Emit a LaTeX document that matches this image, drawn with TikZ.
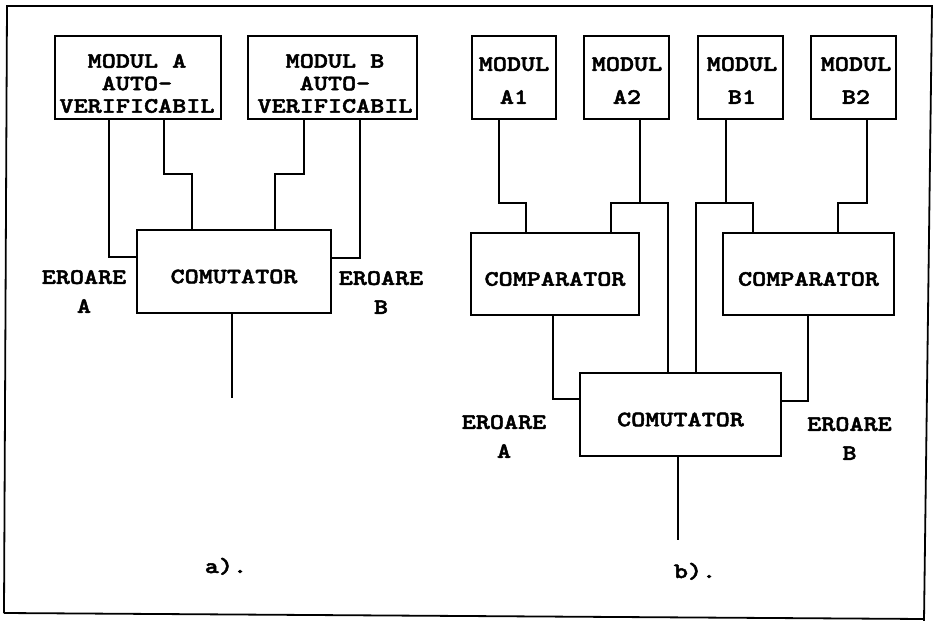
\documentclass[tikz,border=0pt]{standalone}
\usepackage{fontspec}
\newfontfamily\typew[FakeStretch=1.22,FakeBold=2.2]{lmmonolt10-bold.otf}
\tikzset{
  box/.style={draw, line width=1.3pt, inner sep=0pt},
  wire/.style={line width=1.6pt},
  frame/.style={line width=1.8pt},
  txt/.style={font=\typew\fontsize{22}{22.5}\selectfont, inner sep=0pt, align=center},
  onebox/.style={box, txt, minimum height=83pt, text height=23.5pt, text depth=0pt},
}
\begin{document}
\begin{tikzpicture}[x=1pt, y=-1pt]
\useasboundingbox (0,0) rectangle (935,621);
% frame
\draw[frame] (4,613) -- (7,6) -- (932,6) -- (924,621);
\draw[frame] (4,613) -- (924,619);

% ---------- a) ----------
\node[box, minimum width=166pt, minimum height=83pt] (mA) at (138,77.5) {};
\node[box, minimum width=169pt, minimum height=83pt] (mB) at (332.5,77.5) {};
\node[txt] (tA) at (137,83.5) {MODUL A\\AUTO-\\VERIFICABIL};
\node[txt] (tB) at (335,83.5) {MODUL B\\AUTO-\\VERIFICABIL};
\node[onebox, minimum width=194pt] (ca) at (234,271.5) {COMUTATOR};
\node[txt] (eaA) at (84,291.5) {EROARE\\[6.5pt]A};
\node[txt] (eaB) at (381,292.5) {EROARE\\[6.5pt]B};
\coordinate (oa) at (232,398);
\node[txt, anchor=base] (capa) at (226,573) {a).};

\draw[wire] (mA.south -| 109,0) |- (ca.west |- 0,257);
\draw[wire] (mA.south -| 164,0) |- (192,174) -- (ca.north -| 192,0);
\draw[wire] (mB.south -| 304,0) |- (275,174) -- (ca.north -| 275,0);
\draw[wire] (mB.south -| 360,0) |- (ca.east |- 0,258);
\draw[wire] (ca.south -| oa) -- (oa);

% ---------- b) ----------
\node[box, minimum width=84pt, minimum height=83pt] (a1) at (514,77.5) {};
\node[box, minimum width=85pt, minimum height=83pt] (a2) at (626.5,77.5) {};
\node[box, minimum width=85pt, minimum height=83pt] (b1) at (740.5,77.5) {};
\node[box, minimum width=85pt, minimum height=83pt] (b2) at (853.5,77.5) {};
\node[txt] (ta1) at (514,80.5) {MODUL\\[10.5pt]A1};
\node[txt] (ta2) at (627,80.5) {MODUL\\[10.5pt]A2};
\node[txt] (tb1) at (742,80.5) {MODUL\\[10.5pt]B1};
\node[txt] (tb2) at (856,80.5) {MODUL\\[10.5pt]B2};
\node[onebox, minimum width=168pt, minimum height=82pt] (cpl) at (555,274) {COMPARATOR};
\node[onebox, minimum width=171pt, minimum height=82pt] (cpr) at (808.5,274) {COMPARATOR};
\node[onebox, minimum width=201pt] (cb) at (680.5,414.5) {COMUTATOR};
\node[txt] (ebA) at (504,436.5) {EROARE\\[6.5pt]A};
\node[txt] (ebB) at (849.5,438.5) {EROARE\\[6.5pt]B};
\coordinate (ob) at (678,540);
\node[txt, anchor=base] (capb) at (695,578) {b).};

\draw[wire] (a1.south -| 499,0) |- (526,203) -- (cpl.north -| 526,0);
\draw[wire] (a2.south -| 640,0) -- (640,203);
\draw[wire] (cpl.north -| 611,0) |- (668,203) -- (cb.north -| 668,0);
\draw[wire] (b1.south -| 726,0) -- (726,203);
\draw[wire] (cb.north -| 696,0) |- (753,203) -- (cpr.north -| 753,0);
\draw[wire] (b2.south -| 867,0) |- (838,203) -- (cpr.north -| 838,0);
\draw[wire] (cpl.south -| 553,0) |- (cb.west |- 0,399);
\draw[wire] (cpr.south -| 808,0) |- (cb.east |- 0,401);
\draw[wire] (cb.south -| ob) -- (ob);
\end{tikzpicture}
\end{document}
